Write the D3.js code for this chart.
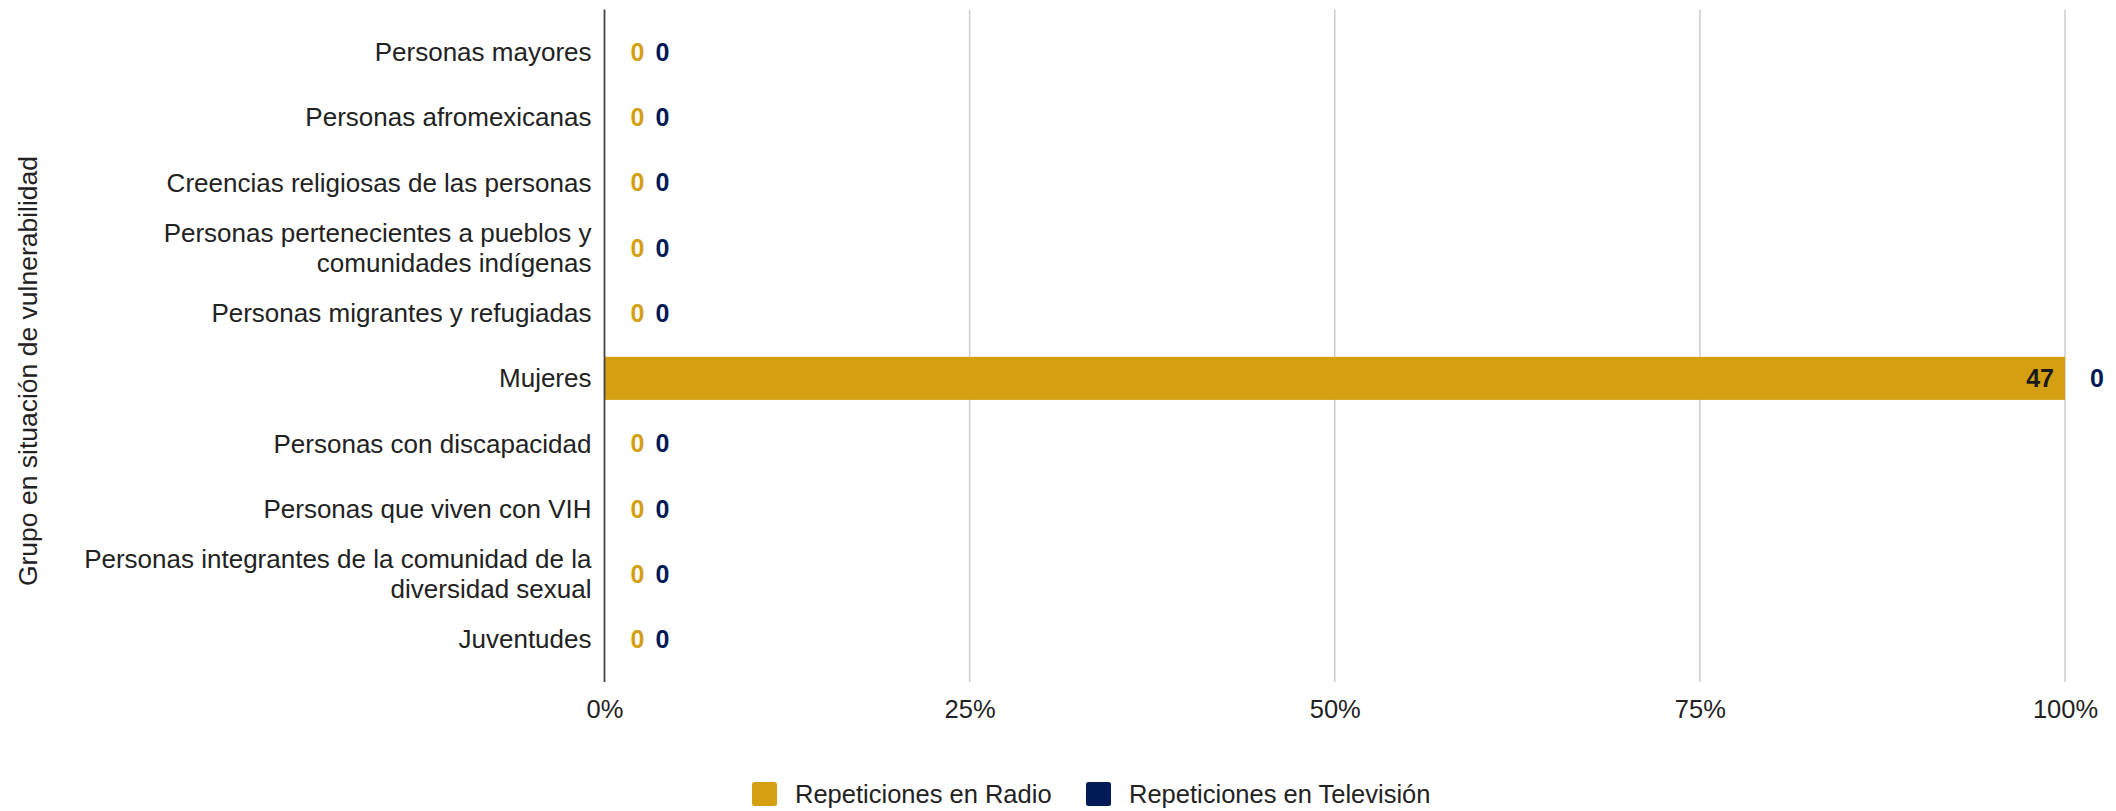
<!DOCTYPE html>
<html>
<head>
<meta charset="utf-8">
<script src="https://cdn.jsdelivr.net/npm/d3@7"></script>
<style>
  html, body { margin: 0; padding: 0; background: #fff; }
  svg { display: block; font-family: "Liberation Sans", Arial, sans-serif; }
</style>
</head>
<body>
<svg id="chart" width="2116" height="811"></svg>
<script>
// ---- data ----
const categories = [
  "Personas mayores",
  "Personas afromexicanas",
  "Creencias religiosas de las personas",
  "Personas pertenecientes a pueblos y\ncomunidades indígenas",
  "Personas migrantes y refugiadas",
  "Mujeres",
  "Personas con discapacidad",
  "Personas que viven con VIH",
  "Personas integrantes de la comunidad de la\ndiversidad sexual",
  "Juventudes"
];
const radioValues = [0, 0, 0, 0, 0, 47, 0, 0, 0, 0];
const tvValues    = [0, 0, 0, 0, 0, 0, 0, 0, 0, 0];
const seriesNames = ["Repeticiones en Radio", "Repeticiones en Televisión"];
const seriesColors = ["#D4A012", "#001A57"];
const xTicks = [0, 0.25, 0.5, 0.75, 1];
const yTitle = "Grupo en situación de vulnerabilidad";

// ---- layout ----
const svg = d3.select("#chart");
const plotLeft = 604.5, plotRight = 2065;
const plotTop = 9.5, plotBottom = 682;
const fontSize = 25.5;

const x = d3.scaleLinear().domain([0, 1]).range([plotLeft, plotRight]);
const y = d3.scaleBand().domain(categories).range([19.5, 672]).paddingInner(0.34).paddingOuter(0.17);

const rows = categories.map((c, i) => {
  const total = radioValues[i] + tvValues[i];
  const r = total > 0 ? radioValues[i] / total : 0;
  const t = total > 0 ? tvValues[i] / total : 0;
  return { cat: c, radio: radioValues[i], tv: tvValues[i], r0: 0, r1: r, t0: r, t1: r + t };
});

// gridlines
const grid = svg.append("g");
grid.selectAll("line").data(xTicks.filter(d => d > 0)).join("line")
  .attr("x1", d => x(d)).attr("x2", d => x(d))
  .attr("y1", plotTop).attr("y2", plotBottom)
  .attr("stroke", "#cccccc").attr("stroke-width", 1.5);

// x tick labels via axis
const xAxis = d3.axisBottom(x).tickValues(xTicks).tickFormat(d3.format(".0%")).tickSize(0).tickPadding(0);
const gx = svg.append("g").attr("transform", `translate(0,${plotBottom})`).call(xAxis);
gx.select(".domain").remove();
gx.selectAll("text")
  .attr("y", 27).attr("dy", "0.35em")
  .attr("font-size", fontSize).attr("font-family", "Liberation Sans, Arial, sans-serif")
  .attr("fill", "#222");

// bars
const barG = svg.append("g");
barG.selectAll("rect.radio").data(rows).join("rect")
  .attr("class", "radio")
  .attr("x", d => x(d.r0)).attr("width", d => x(d.r1) - x(d.r0))
  .attr("y", d => y(d.cat)).attr("height", y.bandwidth())
  .attr("fill", seriesColors[0]);
barG.selectAll("rect.tv").data(rows).join("rect")
  .attr("class", "tv")
  .attr("x", d => x(d.t0)).attr("width", d => x(d.t1) - x(d.t0))
  .attr("y", d => y(d.cat)).attr("height", y.bandwidth())
  .attr("fill", seriesColors[1]);

// y axis line
svg.append("line")
  .attr("x1", plotLeft).attr("x2", plotLeft)
  .attr("y1", plotTop).attr("y2", plotBottom)
  .attr("stroke", "#444").attr("stroke-width", 1.8);

// y labels
const yl = svg.append("g");
rows.forEach(d => {
  const lines = d.cat.split("\n");
  const cy = y(d.cat) + y.bandwidth() / 2;
  const lh = 30;
  const t = yl.append("text")
    .attr("text-anchor", "end")
    .attr("font-size", 26).attr("fill", "#222");
  lines.forEach((ln, k) => {
    t.append("tspan")
      .attr("x", plotLeft - 13)
      .attr("y", cy + (k - (lines.length - 1) / 2) * lh)
      .attr("dy", "0.35em")
      .text(ln);
  });
});

// data labels
const lab = svg.append("g").attr("font-weight", "bold").attr("font-size", 25);
rows.forEach(d => {
  const cy = y(d.cat) + y.bandwidth() / 2;
  let tvX;
  if (d.r1 - d.r0 > 0) {
    lab.append("text").attr("x", x(d.r1) - 11).attr("y", cy).attr("dy", "0.35em")
      .attr("text-anchor", "end").attr("fill", "#1a1a1a").text(d.radio);
    tvX = x(d.t1) + 25;
  } else {
    lab.append("text").attr("x", x(d.r1) + 26).attr("y", cy).attr("dy", "0.35em")
      .attr("text-anchor", "start").attr("fill", seriesColors[0]).text(d.radio);
    tvX = x(d.t1) + 51;
  }
  lab.append("text").attr("x", tvX).attr("y", cy).attr("dy", "0.35em")
    .attr("text-anchor", "start").attr("fill", seriesColors[1]).text(d.tv);
});

// y title
svg.append("text")
  .attr("transform", "translate(28,371) rotate(-90)")
  .attr("text-anchor", "middle").attr("dy", "0.35em")
  .attr("font-size", 26.5).attr("fill", "#222")
  .text(yTitle);

// legend
const legendX = [752, 1086];
const lg = svg.append("g");
seriesNames.forEach((name, i) => {
  lg.append("rect").attr("x", legendX[i]).attr("y", 782).attr("width", 25).attr("height", 24)
    .attr("rx", 2.5).attr("fill", seriesColors[i]);
  lg.append("text").attr("x", legendX[i] + 43).attr("y", 794).attr("dy", "0.35em")
    .attr("font-size", fontSize).attr("fill", "#222").text(name);
});
</script>
</body>
</html>
